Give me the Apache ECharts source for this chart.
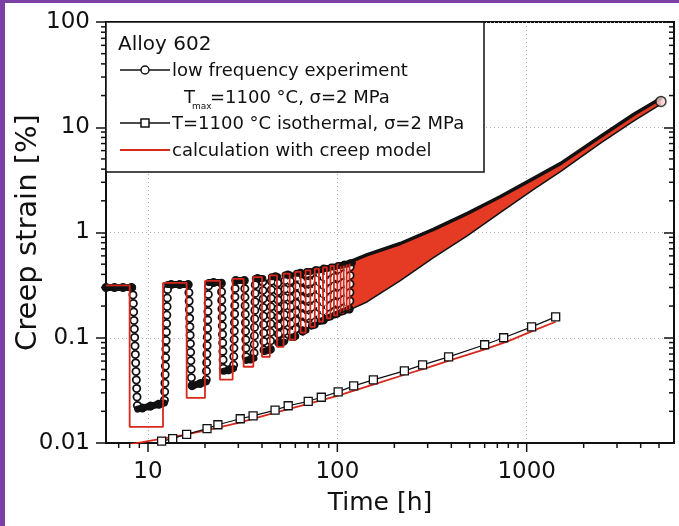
<!DOCTYPE html>
<html><head><meta charset="utf-8">
<script src="https://cdn.jsdelivr.net/npm/echarts@6/dist/echarts.min.js"></script>
<style>html,body{margin:0;padding:0;background:#fff}#c{width:679px;height:526px}</style>
</head><body><div id="c"></div>
<script>
// ---------- data ----------
// cyclic test: calculation (red square wave)
const cycleDown = [8,16,24,32,40,48,56,64,72,80,88,96,104,112];
const cycleUp   = [12,20,28,36,44,52,60,68,76,84,92,100,108,116];
const calcHigh  = [0.315,0.332,0.347,0.362,0.377,0.392,0.407,0.422,0.437,0.452,0.467,0.482,0.497,0.512,0.527];
const calcLow   = [0.0142,0.0268,0.040,0.053,0.066,0.082,0.096,0.112,0.127,0.142,0.153,0.163,0.172,0.182];
// cyclic test: experiment (open circles)
const expDropTop    = [8.3,16.4,24.4,32.4,40.4,48.4,56.4,64.4,72.4,80.4,88.4,96.4,104.4,112.4];
const expDropBottom = [8.8,17.0,25.0,33.0,41.0,49.0,57.0,65.0,73.0,81.0,89.0,97.0,105.0,113.0];
const expRiseBottom = [12.2,20.3,28.3,36.3,44.3,52.3,60.3,68.3,76.3,84.3,92.3,100.3,108.3,116.3];
const expRiseTop    = [12.7,20.9,28.9,36.9,44.9,52.9,60.9,68.9,76.9,84.9,92.9,100.9,108.9,116.9];
const expHigh     = [0.300,0.320,0.335,0.350,0.365,0.380,0.395,0.410,0.425,0.440,0.455,0.470,0.485,0.500,0.515];
const expLowStart = [0.021,0.035,0.048,0.061,0.074,0.088,0.101,0.115,0.129,0.143,0.155,0.165,0.175,0.185];
const expLowEnd   = [0.024,0.038,0.051,0.064,0.077,0.091,0.104,0.118,0.132,0.146,0.158,0.168,0.178,0.188];
const waveEnd = 120;
// dense cycling region (envelopes)
const bandT     = [104,117,144,215,322,487,728,1089,1514,2466,3683,5120];
const bandUpper = [0.495,0.53,0.617,0.786,1.07,1.52,2.20,3.27,4.54,8.2,13.3,18.9];
const bandLower = [0.172,0.185,0.22,0.349,0.578,0.936,1.55,2.57,3.81,7.1,11.5,16.6];
const lastPoint = [5120, 17.6];
// isothermal test
const isoT = [11.8,13.5,16.0,20.5,23.4,30.7,35.9,46.9,55.0,70.2,82.3,101,122,155,226,282,387,600,756,1062,1423];
const isoV = [0.0104,0.011,0.0121,0.0137,0.0149,0.017,0.0181,0.0205,0.0226,0.0249,0.0272,0.0306,0.0349,0.0398,0.0485,0.0553,0.0659,0.0858,0.100,0.127,0.158];
const isoCalcT = [7.8,10,15,20,30,46,70,100,150,226,300,400,600,800,1062,1423];
const isoCalcV = [0.0096,0.0104,0.0118,0.0131,0.0155,0.0192,0.0235,0.028,0.0352,0.0445,0.052,0.0615,0.0775,0.093,0.115,0.142];
// axes
const X_MIN = 6, X_MAX = 6000, Y_MIN = 0.01, Y_MAX = 100;
const xTickLabels = {1:'10', 2:'100', 3:'1000'};
const yTickLabels = {'-2':'0.01', '-1':'0.1', '0':'1', '1':'10', '2':'100'};
const majorXTicks = [10,100,1000];
const minorXTicks = [7,8,9,20,30,40,50,60,70,80,90,200,300,400,500,600,700,800,900,2000,3000,4000,5000];
const minorYTicks = [0.02,0.03,0.04,0.05,0.06,0.07,0.08,0.09,0.2,0.3,0.4,0.5,0.6,0.7,0.8,0.9,2,3,4,5,6,7,8,9,20,30,40,50,60,70,80,90];

// ---------- build series data ----------
const calcWave = [[X_MIN, calcHigh[0]]];
for (let k = 0; k < cycleDown.length; k++) {
  calcWave.push([cycleDown[k], calcHigh[k]], [cycleDown[k], calcLow[k]],
                [cycleUp[k], calcLow[k]], [cycleUp[k], calcHigh[k+1]]);
}
calcWave.push([waveEnd, calcHigh[calcHigh.length-1]]);

const expPath = [[X_MIN, expHigh[0]]];
const expFlats = [[X_MIN, expHigh[0]]];
for (let k = 0; k < expDropTop.length; k++) {
  expPath.push([expDropTop[k], expHigh[k]], [expDropBottom[k], expLowStart[k]],
               [expRiseBottom[k], expLowEnd[k]], [expRiseTop[k], expHigh[k+1]]);
  expFlats.push([expDropTop[k], expHigh[k]], [expDropTop[k], null],
                [expDropBottom[k], expLowStart[k]], [expRiseBottom[k], expLowEnd[k]],
                [expRiseBottom[k], null], [expRiseTop[k], expHigh[k+1]]);
}
expPath.push([waveEnd, expHigh[expHigh.length-1]]);
expFlats.push([waveEnd, expHigh[expHigh.length-1]]);

const bandUpperData = bandT.map((t,i)=>[t, bandUpper[i]]);
const bandLowerData = bandT.map((t,i)=>[t, bandLower[i]]);
const isoData = isoT.map((t,i)=>[t, isoV[i]]);
const isoCalcData = isoCalcT.map((t,i)=>[t, isoCalcV[i]]);

const tickData = [];
majorXTicks.forEach(v=>tickData.push([v, Y_MIN, 1]));
minorXTicks.forEach(v=>tickData.push([v, Y_MIN, 0]));
minorYTicks.forEach(v=>tickData.push([X_MIN, v, 2]));

function expOf(v){ const e = Math.log10(v); const r = Math.round(e); return Math.abs(e-r) < 1e-6 ? r : null; }

const FONT = 'DejaVu Sans';
const INK = '#111';
const RED = '#d8281c';
const FILL = '#e53b24';
const PURPLE = '#7b3fa6';

const chart = echarts.init(document.getElementById('c'), null, {renderer:'canvas'});
const tickStyle = {stroke: INK, lineWidth: 1.5};
chart.setOption({
  animation: false,
  backgroundColor: '#fff',
  grid: {left:106, right:5, top:22, bottom:83, show:true, borderColor:INK, borderWidth:2,
         backgroundColor:'transparent', containLabel:false, outerBoundsMode:'none'},
  xAxis: [{
    type:'log', logBase:10, min:X_MIN, max:X_MAX,
    name:'Time [h]', nameLocation:'middle', nameGap:48, nameMoveOverlap:false,
    nameTextStyle:{fontFamily:FONT, fontSize:25, color:INK, padding:[0,20,0,0]},
    axisLine:{show:true, lineStyle:{color:INK, width:2}},
    axisTick:{show:false},
    axisLabel:{fontFamily:FONT, fontSize:23, color:INK, margin:18,
      formatter: v => { const e = expOf(v); return (e !== null && xTickLabels[e]) || ''; }},
    splitLine:{show:true, lineStyle:{color:'#b0b0b0', width:1, type:[1,3]}}
  }],
  yAxis: [{
    type:'log', logBase:10, min:Y_MIN, max:Y_MAX, position:'left',
    name:'Creep strain [%]', nameLocation:'middle', nameGap:63, nameMoveOverlap:false,
    nameTextStyle:{fontFamily:FONT, fontSize:29, color:INK},
    axisLine:{show:true, lineStyle:{color:INK, width:2}},
    axisTick:{show:true, inside:false, length:10, lineStyle:{color:INK, width:1.5}},
    axisLabel:{fontFamily:FONT, fontSize:23, color:INK, margin:16,
      formatter: v => { const e = expOf(v); return (e !== null && yTickLabels[e]) || ''; }},
    splitLine:{show:true, lineStyle:{color:'#b0b0b0', width:1, type:[1,3]}}
  },{
    type:'log', logBase:10, min:Y_MIN, max:Y_MAX, position:'right',
    axisLine:{show:true, lineStyle:{color:INK, width:2}},
    axisTick:{show:true, inside:true, length:10, lineStyle:{color:INK, width:1.5}},
    axisLabel:{show:false}, splitLine:{show:false}
  }],
  series: [
    {type:'line', name:'iso calc', data:isoCalcData, symbol:'none',
     lineStyle:{color:RED, width:1.8}, z:2},
    {type:'line', name:'iso', data:isoData, symbol:'rect', symbolSize:8,
     itemStyle:{color:'#fff', borderColor:INK, borderWidth:1.3},
     lineStyle:{color:INK, width:1.2}, z:3},
    {type:'custom', name:'band fill', data:bandUpperData, z:3,
     renderItem:(params, api)=>{
       if (params.dataIndex !== 0) return null;
       const pts = [];
       for (let i=0;i<bandT.length;i++) pts.push(api.coord([bandT[i], bandUpper[i]]));
       for (let i=bandT.length-1;i>=0;i--) pts.push(api.coord([bandT[i], bandLower[i]]));
       return {type:'polygon', shape:{points:pts}, style:{fill:FILL}};
     }},
    {type:'line', name:'exp rings', data:expPath, symbol:'none', z:4,
     lineStyle:{color:INK, width:9, type:[0.01,8.5], cap:'round', join:'round'}},
    {type:'line', name:'exp rings inner', data:expPath, symbol:'none', z:4,
     lineStyle:{color:'#fff', width:5.5, type:[0.01,8.5], cap:'round', join:'round'}},
    {type:'line', name:'exp flats', data:expFlats, symbol:'none', z:4, connectNulls:false,
     lineStyle:{color:INK, width:7, cap:'round', join:'round'}},
    {type:'line', name:'calc wave', data:calcWave, symbol:'none', z:5,
     lineStyle:{color:RED, width:1.8}},
    {type:'line', name:'band upper', data:bandUpperData, symbol:'none', z:6,
     lineStyle:{color:INK, width:3.5, cap:'round', join:'round'}},
    {type:'line', name:'band lower', data:bandLowerData, symbol:'none', z:6,
     lineStyle:{color:INK, width:1.5}},
    {type:'scatter', name:'end', data:[lastPoint], symbol:'circle', symbolSize:10, z:7,
     itemStyle:{color:'#f4d0d0', borderColor:INK, borderWidth:1.5}},
    {type:'custom', name:'ticks', data:tickData, z:8, encode:{x:0, y:1},
     renderItem:(params, api)=>{
       const kind = api.value(2);
       const p = api.coord([api.value(0), api.value(1)]);
       if (kind === 0) return {type:'line', shape:{x1:p[0], y1:p[1], x2:p[0], y2:p[1]+5}, style:tickStyle};
       if (kind === 1) return {type:'line', shape:{x1:p[0], y1:p[1], x2:p[0], y2:p[1]+9}, style:tickStyle};
       const pr = api.coord([X_MAX, api.value(1)]);
       return {type:'group', children:[
         {type:'line', shape:{x1:p[0]-5, y1:p[1], x2:p[0], y2:p[1]}, style:tickStyle},
         {type:'line', shape:{x1:pr[0]-5, y1:pr[1], x2:pr[0], y2:pr[1]}, style:tickStyle}]};
     }}
  ],
  graphic: [
    {type:'rect', shape:{x:0,y:0,width:679,height:3}, style:{fill:PURPLE}, z:200},
    {type:'rect', shape:{x:0,y:0,width:5,height:526}, style:{fill:PURPLE}, z:200},
    {type:'rect', shape:{x:106,y:22,width:378,height:150}, style:{fill:'#fff', stroke:INK, lineWidth:1.5}, z:100},
    {type:'text', x:118, y:45, z:101, style:{text:'Alloy 602', fontFamily:FONT, fontSize:20, fill:INK, verticalAlign:'middle'}},
    {type:'line', shape:{x1:120,y1:70,x2:170,y2:70}, style:{stroke:INK, lineWidth:1.5}, z:101},
    {type:'circle', shape:{cx:145,cy:70,r:4}, style:{fill:'#fff', stroke:INK, lineWidth:1.5}, z:102},
    {type:'text', x:172, y:71, z:101, style:{text:'low frequency experiment', fontFamily:FONT, fontSize:18, fill:INK, verticalAlign:'middle'}},
    {type:'text', x:184, y:98, z:101, style:{text:'T', fontFamily:FONT, fontSize:18, fill:INK, verticalAlign:'middle'}},
    {type:'text', x:192, y:107, z:101, style:{text:'max', fontFamily:FONT, fontSize:9, fill:INK, verticalAlign:'middle'}},
    {type:'text', x:210, y:98, z:101, style:{text:'=1100 °C, σ=2 MPa', fontFamily:FONT, fontSize:18, fill:INK, verticalAlign:'middle'}},
    {type:'line', shape:{x1:120,y1:123,x2:170,y2:123}, style:{stroke:INK, lineWidth:1.5}, z:101},
    {type:'rect', shape:{x:141,y:119,width:8,height:8}, style:{fill:'#fff', stroke:INK, lineWidth:1.5}, z:102},
    {type:'text', x:172, y:124, z:101, style:{text:'T=1100 °C isothermal, σ=2 MPa', fontFamily:FONT, fontSize:18, fill:INK, verticalAlign:'middle'}},
    {type:'line', shape:{x1:120,y1:150,x2:170,y2:150}, style:{stroke:RED, lineWidth:2}, z:101},
    {type:'text', x:172, y:151, z:101, style:{text:'calculation with creep model', fontFamily:FONT, fontSize:18, fill:INK, verticalAlign:'middle'}}
  ]
});
</script>
</body></html>
